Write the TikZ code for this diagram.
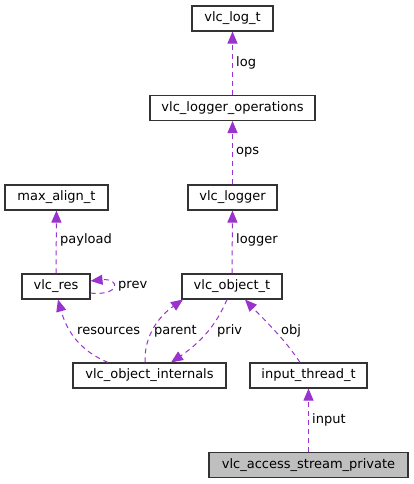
\documentclass[tikz,border=0pt]{standalone}
\usepackage{fontspec}
\setmainfont{DejaVu Sans}
\usetikzlibrary{arrows.meta}
\definecolor{edgec}{HTML}{9A32CD}
\definecolor{rootfill}{HTML}{BFBFBF}
\definecolor{boxc}{HTML}{333333}
\begin{document}
\begin{tikzpicture}[x=1pt,y=-1pt,
  box/.style={draw=boxc,line width=1.1pt,minimum height=25pt,inner sep=0pt,font=\fontsize{13}{15}\selectfont},
  rel/.style={draw=edgec,line width=1pt,dash pattern=on 5pt off 4pt,-{Triangle[length=12pt,width=10pt]}},
  lbl/.style={anchor=west,inner sep=0pt,font=\fontsize{13}{15}\selectfont}]
\useasboundingbox (0,0) rectangle (413,484);
\node[box,minimum width=81pt] (logt) at (232.5,18.5) {vlc\_log\_t};
\node[box,minimum width=165pt] (ops) at (232.5,108) {vlc\_logger\_operations};
\node[box,minimum width=89pt] (logger) at (232.5,197.5) {vlc\_logger};
\node[box,minimum width=103pt] (maxal) at (56.5,197.5) {max\_align\_t};
\node[box,minimum width=68pt] (res) at (56,286.5) {vlc\_res};
\node[box,minimum width=100pt] (obj) at (232,286.5) {vlc\_object\_t};
\node[box,minimum width=153pt] (intl) at (149.5,375.5) {vlc\_object\_internals};
\node[box,minimum width=117pt] (thr) at (308.5,375.5) {input\_thread\_t};
\node[box,minimum width=199pt,fill=rootfill] (priv) at (308.5,465) {vlc\_access\_stream\_private};

\draw[rel] (ops.north) -- (logt.south);
\draw[rel] (logger.north) -- (ops.south);
\draw[rel] (res.north) -- (maxal.south);
\draw[rel] (obj.north) -- (logger.south);
\draw[rel] ([yshift=6.5pt]res.south east) .. controls +(30,3) and +(30,-3) .. ([yshift=-7.5pt]res.north east);
\draw[rel] ([xshift=-41.5pt]intl.north) .. controls +(-24,-10) and +(10,36) .. ([xshift=2pt]res.south);
\draw[rel] ([xshift=-4.5pt]intl.north) .. controls +(-1,-28) and +(-23,16) .. ([xshift=-49pt]obj.south);
\draw[rel] ([xshift=-5pt]obj.south) .. controls +(-9,21) and +(34,-23) .. ([xshift=21.5pt]intl.north);
\draw[rel] ([xshift=-8.5pt]thr.north) .. controls +(-15,-23) and +(20,21) .. ([xshift=13pt]obj.south);
\draw[rel] (priv.north) -- (thr.south);

\node[lbl] (l1) at (236,63) {log};
\node[lbl] (l2) at (236,152) {ops};
\node[lbl] (l3) at (60,240) {payload};
\node[lbl] (l4) at (236,240) {logger};
\node[lbl] (l5) at (118,286) {prev};
\node[lbl] (l6) at (77,331) {resources};
\node[lbl] (l7) at (154,331) {parent};
\node[lbl] (l8) at (217,331) {priv};
\node[lbl] (l9) at (281,331) {obj};
\node[lbl] (l10) at (312,420) {input};
\end{tikzpicture}
\end{document}
